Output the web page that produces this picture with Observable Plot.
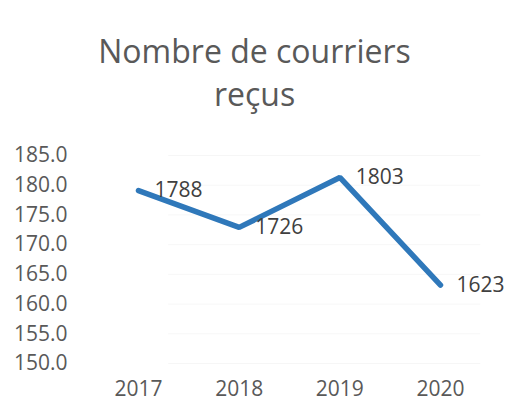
<!DOCTYPE html>
<html>
<head>
<meta charset="utf-8">
<script src="https://cdn.jsdelivr.net/npm/d3@7"></script>
<script src="https://cdn.jsdelivr.net/npm/@observablehq/plot@0.6"></script>
<style>
  html, body { margin: 0; padding: 0; background: #fff; }
  #wrap { width: 512px; height: 405px; overflow: hidden; }
  #title {
    width: 512px; height: 96px; padding-top: 29px;
    font-family: "Open Sans", sans-serif; font-size: 32px; line-height: 43px;
    color: #595959; text-align: center; box-sizing: content-box;
  }
  #title div { margin-left: -3px; }
  svg { display: block; }
</style>
</head>
<body>
<div id="wrap">
  <div id="title"><div>Nombre de courriers</div><div>reçus</div></div>
  <div id="chart"></div>
</div>
<script>
const years = [2017, 2018, 2019, 2020];
const values = [179.1, 172.9, 181.3, 163.2];
const labels = ["1788", "1726", "1803", "1623"];
const yTicks = [150, 155, 160, 165, 170, 175, 180, 185];

const data = years.map((y, i) => ({year: y, value: values[i], label: labels[i]}));

const chart = Plot.plot({
  width: 512,
  height: 280,
  marginTop: 30,
  marginBottom: 42,
  marginLeft: 138,
  marginRight: 72,
  style: {fontFamily: "'Open Sans', sans-serif", background: "#fff"},
  x: {domain: [2017, 2020]},
  y: {domain: [150, 185]},
  marks: [
    Plot.ruleY(yTicks, {x1: 2017.3, x2: 2020.4, stroke: "#000", strokeOpacity: 0.035}),
    Plot.axisY({ticks: yTicks, tickSize: 0, tickPadding: 71, fontSize: 21, tickFormat: d => d.toFixed(1), color: "#595959", label: null}),
    Plot.axisX({ticks: years, tickSize: 0, tickPadding: 18, fontSize: 21, tickFormat: d => String(d), color: "#595959", label: null}),
    Plot.line(data, {x: "year", y: "value", stroke: "#2F78BA", strokeWidth: 5.5, strokeLinecap: "round", strokeLinejoin: "miter"}),
    Plot.text(data, {x: "year", y: "value", text: "label", textAnchor: "start", dx: 16, fontSize: 21, fill: "#404040"})
  ]
});
document.getElementById("chart").appendChild(chart);
</script>
</body>
</html>
